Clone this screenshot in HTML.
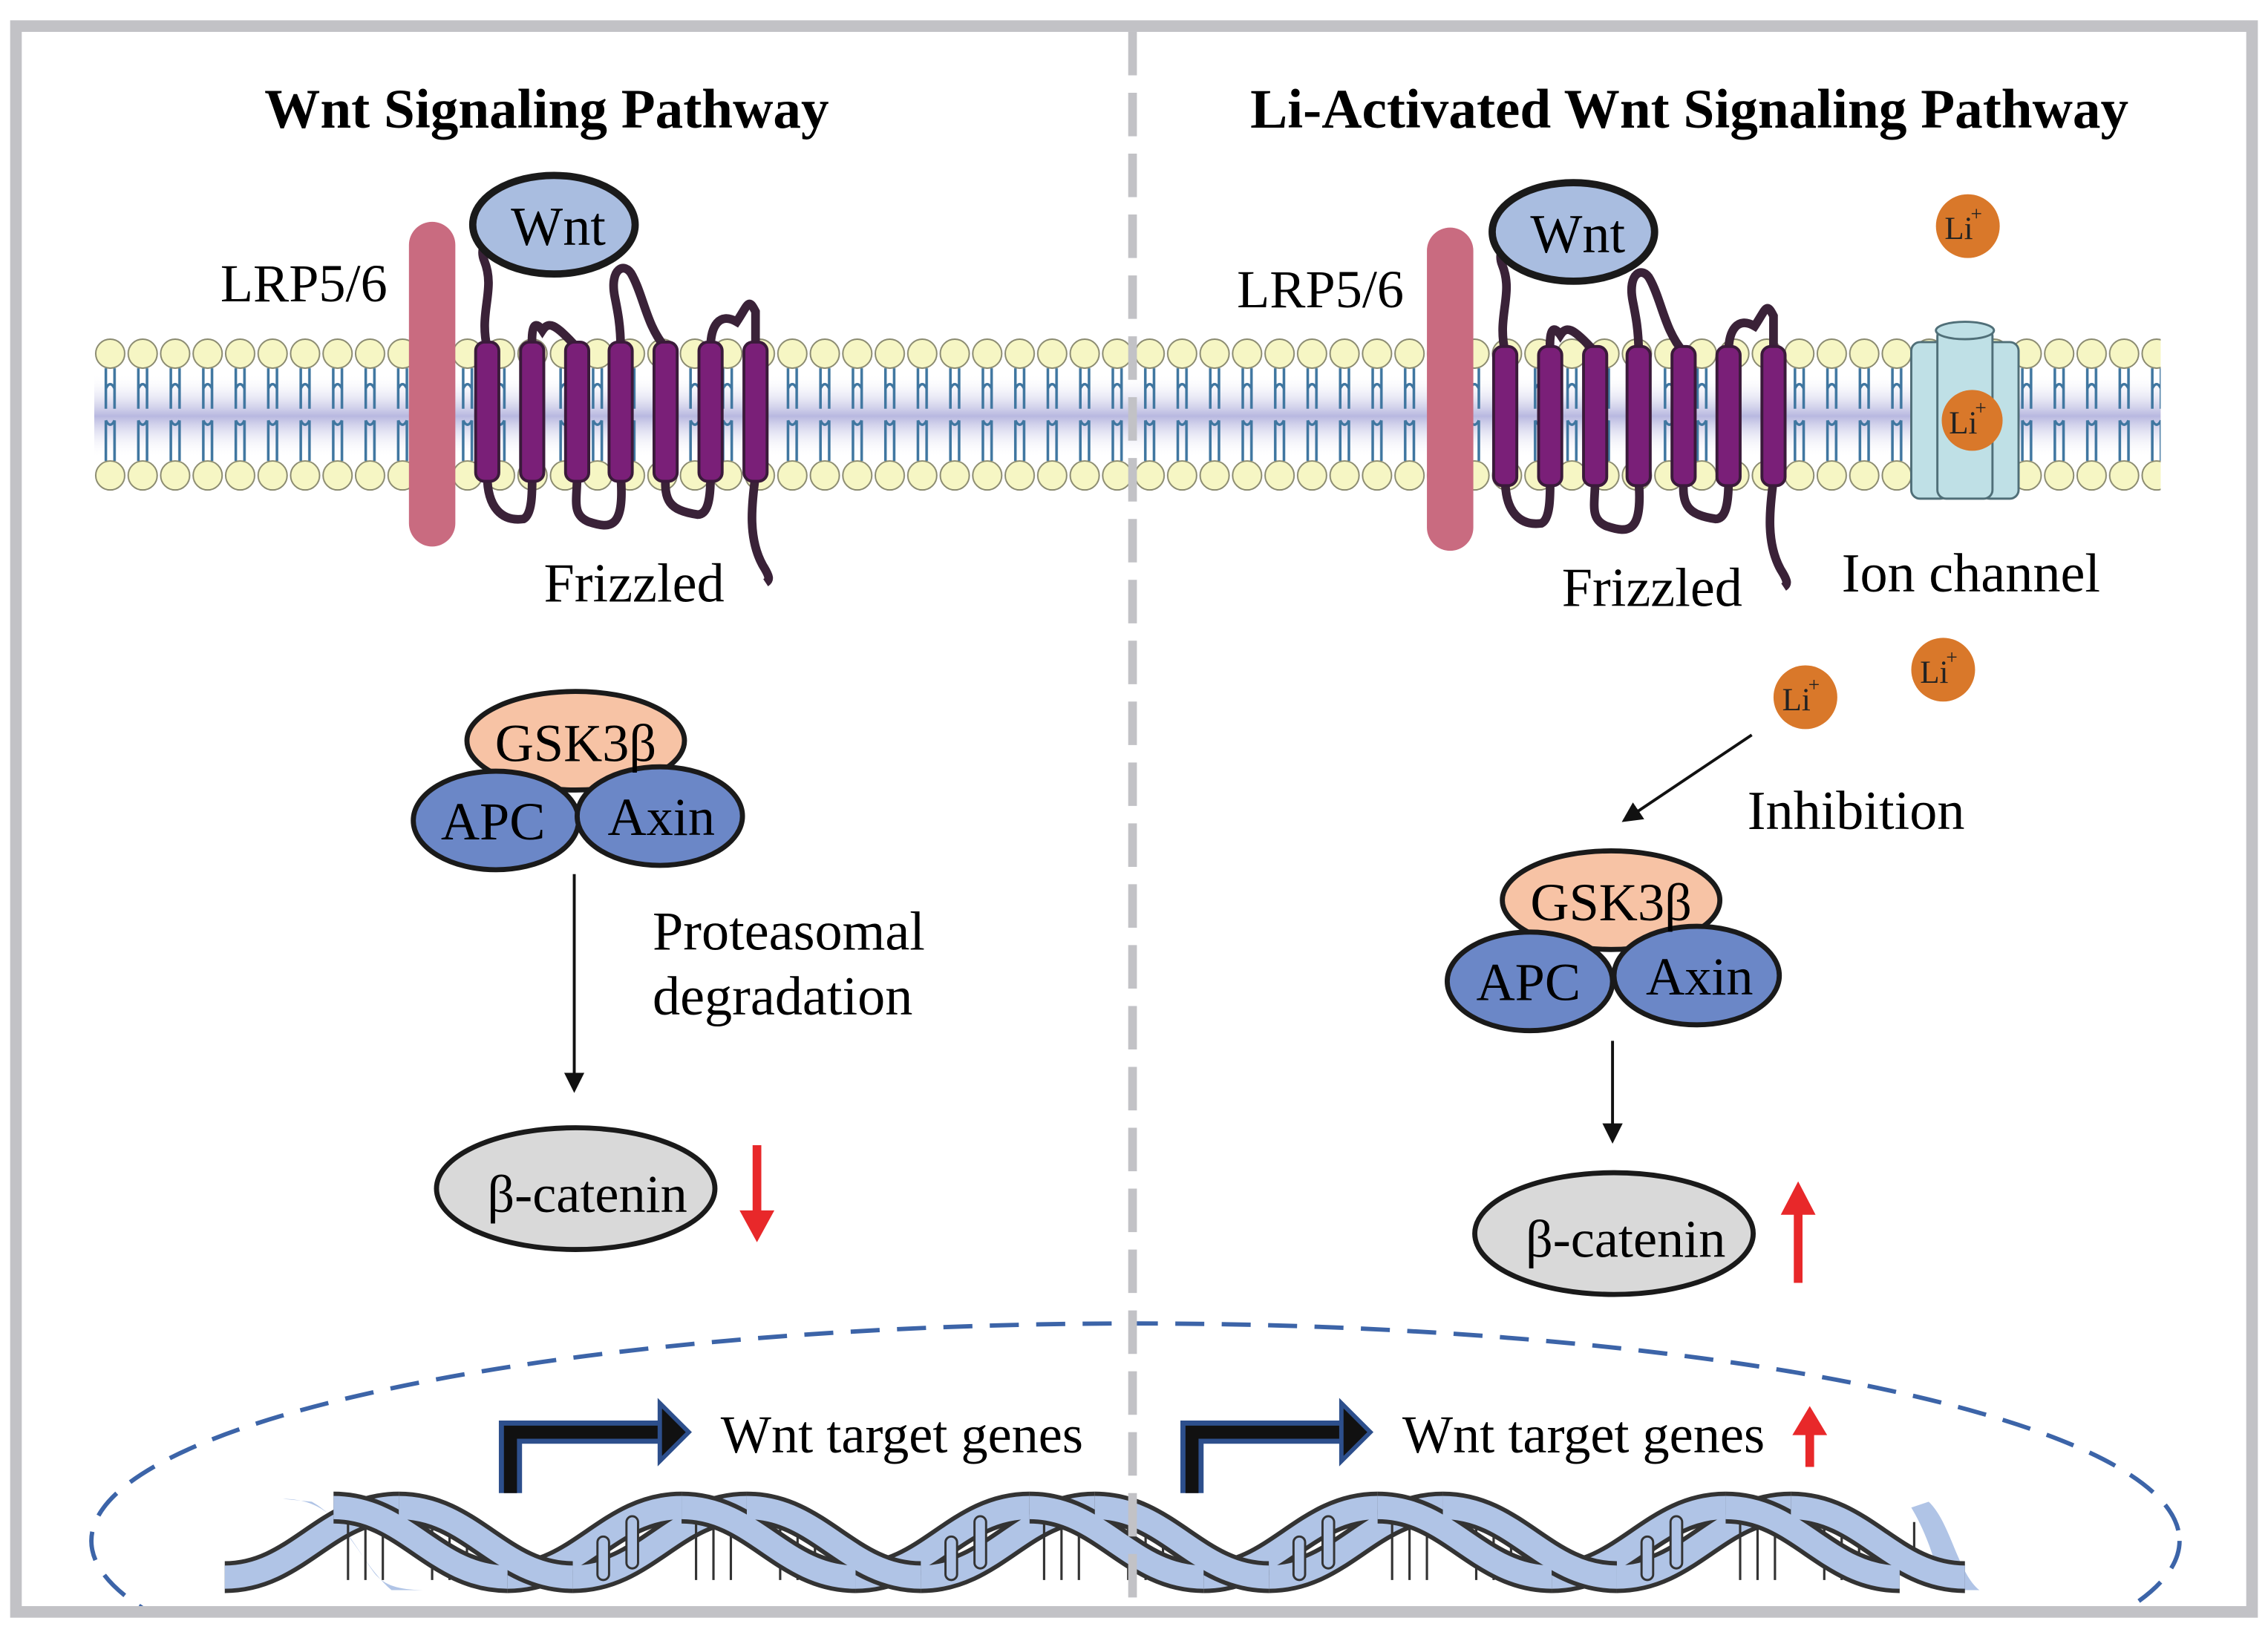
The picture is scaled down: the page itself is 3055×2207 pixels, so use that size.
<!DOCTYPE html>
<html><head><meta charset="utf-8"><style>html,body{margin:0;padding:0;background:#fff;overflow:hidden;width:3055px;height:2207px}svg{display:block}text{font-family:"Liberation Serif","DejaVu Serif",serif}</style></head>
<body>
<svg width="3055" height="2207" viewBox="0 0 1564 1130" preserveAspectRatio="none" xmlns="http://www.w3.org/2000/svg">
<defs>
<clipPath id="frame"><rect x="15" y="22" width="1534" height="1086"/></clipPath>
<linearGradient id="band" x1="0" y1="0" x2="0" y2="1">
<stop offset="0" stop-color="#fff" stop-opacity="0"/>
<stop offset="0.5" stop-color="#b8b8e0"/>
<stop offset="1" stop-color="#fff" stop-opacity="0"/>
</linearGradient>
<pattern id="lip" x="65" y="0" width="22.4" height="1130" patternUnits="userSpaceOnUse">
<path d="M8 254 V268 M14 254 V268 M8 268 V282 M14 268 V282 M8 268 Q11 262 14 268 M8 318 V290 M14 318 V290 M8 290 Q11 296 14 290" stroke="#3f76a0" stroke-width="1.8" fill="none"/>
<circle cx="11" cy="244" r="10" fill="#f6f6c4" stroke="#8a8a70" stroke-width="1"/>
<circle cx="11" cy="328" r="10" fill="#f6f6c4" stroke="#8a8a70" stroke-width="1"/>
</pattern>
<marker id="ah" markerWidth="14" markerHeight="14" refX="12" refY="7" orient="auto" markerUnits="userSpaceOnUse" viewBox="0 0 14 14"><path d="M0 0 L14 7 L0 14Z" fill="#111"/></marker>
<g id="fz">
<path d="M0 240 C-6 215 6 200 -2 180 C-8 165 10 160 12 150" stroke="#3a2238" stroke-width="6" fill="none"/>
<path d="M31 240 C30 222 34 222 38 228 C42 222 46 222 62 240" stroke="#3a2238" stroke-width="6" fill="none"/>
<path d="M92 240 C92 225 90 215 88 205 C84 185 95 180 100 190 C108 205 110 225 123 240" stroke="#3a2238" stroke-width="6" fill="none"/>
<path d="M154 240 C154 225 160 215 172 222 C180 210 180 205 185 215 L185 240" stroke="#3a2238" stroke-width="6" fill="none"/>
<path d="M0 328 C0 350 10 360 25 358 C31 355 31 340 31 328" stroke="#3a2238" stroke-width="6" fill="none"/>
<path d="M62 328 C62 345 58 355 70 360 C85 365 95 365 92 328" stroke="#3a2238" stroke-width="6" fill="none"/>
<path d="M123 328 C122 345 125 352 145 355 C152 355 154 345 154 328" stroke="#3a2238" stroke-width="6" fill="none"/>
<path d="M185 328 C182 350 180 372 190 390 C195 398 195 400 192 402" stroke="#3a2238" stroke-width="6" fill="none"/>
<g fill="#7a1f78" stroke="#3a1a3a" stroke-width="2">
<rect x="-8" y="236" width="16" height="96" rx="6"/><rect x="23" y="236" width="16" height="96" rx="6"/><rect x="54" y="236" width="16" height="96" rx="6"/><rect x="84" y="236" width="16" height="96" rx="6"/><rect x="115" y="236" width="16" height="96" rx="6"/><rect x="146" y="236" width="16" height="96" rx="6"/><rect x="177" y="236" width="16" height="96" rx="6"/>
</g>
</g>
<path id="dsc" d="M0 1040 C50 1040 70 1088 120 1088"/>
<path id="asc" d="M0 1088 C50 1088 70 1040 120 1040"/>
</defs>
<rect x="0" y="0" width="1564" height="1130" fill="#fff"/>

<!-- membrane -->
<rect x="65" y="258" width="1425" height="58" fill="url(#band)"/>
<rect x="65" y="230" width="1425" height="112" fill="url(#lip)"/>

<!-- titles -->
<text x="377" y="88" font-size="38.5" font-weight="bold" text-anchor="middle">Wnt Signaling Pathway</text>
<text x="1165" y="88" font-size="38.5" font-weight="bold" text-anchor="middle">Li-Activated Wnt Signaling Pathway</text>

<!-- LEFT -->
<text x="152" y="208" font-size="37">LRP5/6</text>
<rect x="282" y="153" width="32" height="224" rx="16" fill="#c96b80"/>
<use href="#fz" x="336" y="0"/>
<ellipse cx="382" cy="155" rx="56" ry="34" fill="#a9bde0" stroke="#1a1a1a" stroke-width="5"/>
<text x="385" y="169" font-size="38" text-anchor="middle">Wnt</text>
<text x="375" y="415" font-size="38">Frizzled</text>

<ellipse cx="397" cy="511" rx="75" ry="34" fill="#f7c3a5" stroke="#1a1a1a" stroke-width="3.5"/>
<ellipse cx="342" cy="566" rx="57" ry="34" fill="#6b87c7" stroke="#1a1a1a" stroke-width="3.5"/>
<ellipse cx="455" cy="563" rx="57" ry="34" fill="#6b87c7" stroke="#1a1a1a" stroke-width="3.5"/>
<text x="397" y="525" font-size="37" text-anchor="middle">GSK3β</text>
<text x="340" y="579" font-size="37" text-anchor="middle">APC</text>
<text x="456" y="576" font-size="37" text-anchor="middle">Axin</text>
<line x1="396" y1="603" x2="396" y2="752" stroke="#111" stroke-width="2" marker-end="url(#ah)"/>
<text x="450" y="655" font-size="38">Proteasomal</text>
<text x="450" y="700" font-size="38">degradation</text>
<ellipse cx="397" cy="820" rx="96" ry="42" fill="#d9d9d9" stroke="#1a1a1a" stroke-width="3.5"/>
<text x="405" y="836" font-size="37" text-anchor="middle">β-catenin</text>
<path d="M519 790 V835 H510 L522 857 L534 835 H525 V790Z" fill="#e8282a"/>

<!-- RIGHT -->
<text x="853" y="212" font-size="37">LRP5/6</text>
<rect x="984" y="157" width="32" height="223" rx="16" fill="#c96b80"/>
<use href="#fz" x="1038" y="3"/>
<ellipse cx="1085" cy="160" rx="56" ry="34" fill="#a9bde0" stroke="#1a1a1a" stroke-width="5"/>
<text x="1088" y="174" font-size="38" text-anchor="middle">Wnt</text>
<text x="1077" y="418" font-size="38">Frizzled</text>
<!-- ion channel -->
<g fill="#bfe0e6" stroke="#506f78" stroke-width="1.5">
<rect x="1318" y="236" width="26" height="108" rx="6"/>
<rect x="1366" y="236" width="26" height="108" rx="6"/>
<rect x="1336" y="226" width="38" height="118" rx="6"/>
<ellipse cx="1355" cy="228" rx="20" ry="6"/>
</g>
<g font-size="22" fill="#222">
<circle cx="1360" cy="290" r="21" fill="#d9782a"/><text x="1344" y="299">Li</text><text x="1362" y="286" font-size="14">+</text>
<circle cx="1357" cy="156" r="22" fill="#d9782a"/><text x="1341" y="165">Li</text><text x="1359" y="152" font-size="14">+</text>
<circle cx="1340" cy="462" r="22" fill="#d9782a"/><text x="1324" y="471">Li</text><text x="1342" y="458" font-size="14">+</text>
<circle cx="1245" cy="481" r="22" fill="#d9782a"/><text x="1229" y="490">Li</text><text x="1247" y="477" font-size="14">+</text>
</g>
<text x="1270" y="408" font-size="38">Ion channel</text>
<line x1="1208" y1="507" x2="1120" y2="566" stroke="#111" stroke-width="2" marker-end="url(#ah)"/>
<text x="1205" y="572" font-size="38">Inhibition</text>
<ellipse cx="1111" cy="621" rx="75" ry="34" fill="#f7c3a5" stroke="#1a1a1a" stroke-width="3.5"/>
<ellipse cx="1055" cy="677" rx="57" ry="34" fill="#6b87c7" stroke="#1a1a1a" stroke-width="3.5"/>
<ellipse cx="1170" cy="673" rx="57" ry="34" fill="#6b87c7" stroke="#1a1a1a" stroke-width="3.5"/>
<text x="1111" y="635" font-size="37" text-anchor="middle">GSK3β</text>
<text x="1054" y="690" font-size="37" text-anchor="middle">APC</text>
<text x="1172" y="686" font-size="37" text-anchor="middle">Axin</text>
<line x1="1112" y1="718" x2="1112" y2="787" stroke="#111" stroke-width="2" marker-end="url(#ah)"/>
<ellipse cx="1113" cy="851" rx="96" ry="42" fill="#d9d9d9" stroke="#1a1a1a" stroke-width="3.5"/>
<text x="1121" y="867" font-size="37" text-anchor="middle">β-catenin</text>
<path d="M1237 885 V838 H1228 L1240 815 L1252 838 H1243 V885Z" fill="#e8282a"/>

<g clip-path="url(#frame)">
<!-- nucleus -->
<ellipse cx="783" cy="1063" rx="720" ry="150" fill="none" stroke="#3c64a8" stroke-width="3" stroke-dasharray="20 12"/>

<!-- DNA tails -->
<path d="M195 1034 C230 1034 240 1060 258 1085 C265 1094 275 1097 295 1097 L270 1097 C250 1080 240 1050 215 1036Z" fill="#b0c4e6"/>
<path d="M1330 1036 C1345 1050 1350 1085 1365 1097 L1340 1097 C1335 1080 1330 1060 1318 1040Z" fill="#b0c4e6"/>
<!-- back strands (ascending) -->
<g fill="none" stroke-width="22" stroke="#333">
<use href="#asc" x="350"/><use href="#asc" x="590"/><use href="#asc" x="830"/><use href="#asc" x="1070"/>
<use href="#asc" x="395"/><use href="#asc" x="635"/><use href="#asc" x="875"/><use href="#asc" x="1115"/><use href="#asc" x="155"/>
</g>
<g fill="none" stroke-width="16" stroke="#b0c4e6">
<use href="#asc" x="350"/><use href="#asc" x="590"/><use href="#asc" x="830"/><use href="#asc" x="1070"/>
<use href="#asc" x="395"/><use href="#asc" x="635"/><use href="#asc" x="875"/><use href="#asc" x="1115"/><use href="#asc" x="155"/>
</g>
<!-- rungs -->
<g stroke="#333" stroke-width="1.6">
<path d="M240 1042 V1090 M252 1042 V1090 M264 1042 V1090 M298 1048 V1090 M310 1044 V1090 M322 1044 V1090 M480 1044 V1090 M492 1044 V1090 M504 1048 V1090 M538 1048 V1090 M550 1044 V1090 M562 1044 V1090 M720 1044 V1090 M732 1044 V1090 M744 1048 V1090 M778 1048 V1090 M790 1044 V1090 M802 1044 V1090 M960 1044 V1090 M972 1044 V1090 M984 1048 V1090 M1018 1048 V1090 M1030 1044 V1090 M1042 1044 V1090 M1200 1044 V1090 M1212 1044 V1090 M1224 1048 V1090 M1258 1048 V1090 M1270 1044 V1090 M1282 1044 V1090 M1320 1050 V1090"/>
</g>
<g fill="#b0c4e6" stroke="#333" stroke-width="1.5">
<rect x="412" y="1060" width="8" height="30" rx="4"/><rect x="432" y="1046" width="8" height="36" rx="4"/>
<rect x="652" y="1060" width="8" height="30" rx="4"/><rect x="672" y="1046" width="8" height="36" rx="4"/>
<rect x="892" y="1060" width="8" height="30" rx="4"/><rect x="912" y="1046" width="8" height="36" rx="4"/>
<rect x="1132" y="1060" width="8" height="30" rx="4"/><rect x="1152" y="1046" width="8" height="36" rx="4"/>
</g>
<!-- front strands (descending) -->
<g fill="none" stroke-width="22" stroke="#333">
<use href="#dsc" x="230"/><use href="#dsc" x="470"/><use href="#dsc" x="710"/><use href="#dsc" x="950"/><use href="#dsc" x="1190"/>
<use href="#dsc" x="275"/><use href="#dsc" x="515"/><use href="#dsc" x="755"/><use href="#dsc" x="995"/><use href="#dsc" x="1235"/>
</g>
<g fill="none" stroke-width="16" stroke="#b0c4e6">
<use href="#dsc" x="230"/><use href="#dsc" x="470"/><use href="#dsc" x="710"/><use href="#dsc" x="950"/><use href="#dsc" x="1190"/>
<use href="#dsc" x="275"/><use href="#dsc" x="515"/><use href="#dsc" x="755"/><use href="#dsc" x="995"/><use href="#dsc" x="1235"/>
</g>
</g>

<!-- gene arrows -->
<g fill="none" stroke-linejoin="miter">
<path d="M352 1030 V988 H462" stroke="#2d4f8c" stroke-width="16"/>
<path d="M352 1030 V988 H462" stroke="#111" stroke-width="9"/>
<path d="M822 1030 V988 H932" stroke="#2d4f8c" stroke-width="16"/>
<path d="M822 1030 V988 H932" stroke="#111" stroke-width="9"/>
</g>
<path d="M455 968 L475 988 L455 1008Z" fill="#111" stroke="#2d4f8c" stroke-width="3"/>
<path d="M925 968 L945 988 L925 1008Z" fill="#111" stroke="#2d4f8c" stroke-width="3"/>
<text x="497" y="1002" font-size="37">Wnt target genes</text>
<text x="967" y="1002" font-size="37">Wnt target genes</text>
<path d="M1245 1012 V990 H1236 L1248 970 L1260 990 H1251 V1012Z" fill="#e8282a"/>

<!-- divider & frame -->
<line x1="781" y1="22" x2="781" y2="1108" stroke="#c2c2c6" stroke-width="6" stroke-dasharray="30 12"/>
<rect x="11" y="18" width="1542" height="1094" fill="none" stroke="#c2c2c6" stroke-width="8"/>
</svg>
</body></html>
